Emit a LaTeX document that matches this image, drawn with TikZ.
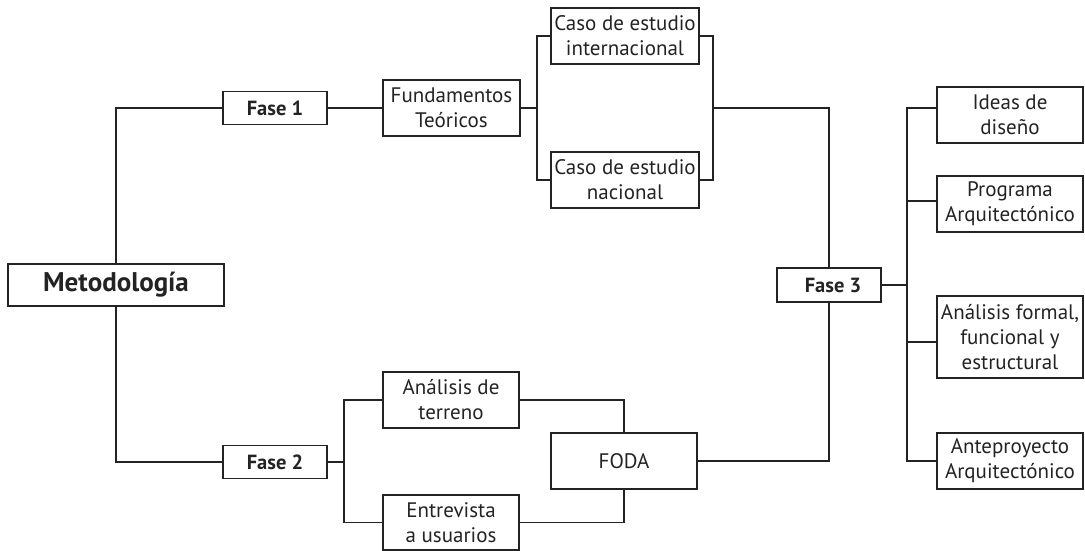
\documentclass[tikz,border=0pt]{standalone}
\usepackage{fontspec}
\setmainfont{PT Sans}
\definecolor{ink}{RGB}{35,35,35}
\begin{document}
\begin{tikzpicture}[x=1pt,y=-1pt,
  box/.style={draw=ink,line width=1.6pt,text=ink,inner sep=0pt,align=center,
    font=\fontsize{21}{25}\selectfont},
  boldbox/.style={box,font=\fontsize{20.5}{25}\selectfont\bfseries},
  link/.style={draw=ink,line width=1.6pt}]
\useasboundingbox (0,0) rectangle (1085,551);
\node[box,font=\fontsize{27}{30}\selectfont\bfseries,minimum width=216pt,minimum height=42pt] (met) at (116,285) {Metodología};
\node[boldbox,minimum width=104pt,minimum height=33pt] (f1) at (275,108) {Fase 1};
\node[boldbox,minimum width=104pt,minimum height=33pt] (f2) at (275,462) {Fase 2};
\node[boldbox,minimum width=104pt,minimum height=34pt] (f3) at (829,285) {\hspace{8pt}Fase 3};
\node[box,minimum width=137pt,minimum height=56pt] (fund) at (451.5,108) {Fundamentos\\Teóricos};
\node[box,minimum width=148pt,minimum height=56pt] (ci) at (625,36) {Caso de estudio\\internacional};
\node[box,minimum width=148pt,minimum height=56pt] (cn) at (625,180) {Caso de estudio\\nacional};
\node[box,minimum width=136pt,minimum height=56pt] (at) at (451,400) {Análisis de\\terreno};
\node[box,minimum width=136pt,minimum height=55pt] (ent) at (451,522.5) {Entrevista\\a usuarios};
\node[box,minimum width=146pt,minimum height=56pt] (foda) at (624,461) {FODA};
\node[box,minimum width=146pt,minimum height=56pt] (ideas) at (1010,115) {Ideas de\\diseño};
\node[box,minimum width=146pt,minimum height=56pt] (prog) at (1010,204) {Programa\\Arquitectónico};
\node[box,minimum width=146pt,minimum height=82pt] (anf) at (1010,337) {Análisis formal,\\funcional y\\estructural};
\node[box,minimum width=146pt,minimum height=56pt] (ante) at (1010,461) {Anteproyecto\\Arquitectónico};
% connectors
\draw[link] (met.north) |- (f1.west);
\draw[link] (met.south) |- (f2.west);
\draw[link] (f1.east) -- (fund.west);
\draw[link] (fund.east) -- ++(16,0) coordinate (b1);
\draw[link] (ci.west) -| (b1) |- (cn.west);
\coordinate (b2) at (713,108);
\draw[link] (ci.east) -| (b2) |- (cn.east);
\draw[link] (b2) -| (f3.north);
\draw[link] (f3.south) |- (foda.east);
\draw[link] (f2.east) -- ++(16,0) coordinate (b3);
\draw[link] (at.west) -| (b3) |- (ent.west);
\draw[link] (at.east) -| (foda.north);
\draw[link] (ent.east) -| (foda.south);
\draw[link] (f3.east) -- ++(25,0) coordinate (b4);
\draw[link] ([yshift=7pt]ideas.west) -| (b4) |- (ante.west);
\draw[link] ([yshift=3pt]prog.west) -| (b4);
\draw[link] ([yshift=-5pt]anf.west) -| (b4);
\end{tikzpicture}
\end{document}
